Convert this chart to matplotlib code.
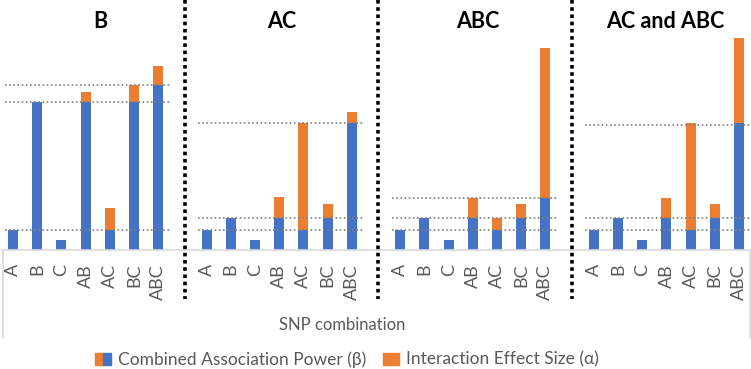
import matplotlib
matplotlib.use("Agg")
import numpy as np
import matplotlib.pyplot as plt
from matplotlib.patches import Patch
from matplotlib.legend_handler import HandlerTuple
from matplotlib.lines import Line2D

plt.rcParams['font.family'] = ['Lato', 'DejaVu Sans']

# data (arbitrary units)
combos = ['A', 'B', 'C', 'AB', 'AC', 'BC', 'ABC']
panels = ['B', 'AC', 'ABC', 'AC and ABC']

beta = [
    [2.0, 14.8, 1.0, 14.8, 2.0, 14.8, 16.5],
    [2.0, 3.2, 1.0, 3.2, 2.0, 3.2, 12.7],
    [2.0, 3.2, 1.0, 3.2, 2.0, 3.2, 5.2],
    [2.0, 3.2, 1.0, 3.2, 2.0, 3.2, 12.7],
]
alpha = [
    [0.0, 0.0, 0.0, 1.0, 2.2, 1.7, 1.9],
    [0.0, 0.0, 0.0, 2.1, 10.7, 1.4, 1.1],
    [0.0, 0.0, 0.0, 2.0, 1.2, 1.4, 15.0],
    [0.0, 0.0, 0.0, 2.0, 10.7, 1.4, 8.5],
]
ref_levels = [
    [2.0, 14.8, 16.5],
    [2.0, 3.2, 12.7],
    [2.0, 3.2, 5.2],
    [2.0, 3.2, 12.5],
]

BLUE = '#4472C4'
ORANGE = '#ED7D31'
GRAY_TXT = '#595959'
GRID = '#d9d9d9'

fig = plt.figure(figsize=(7.51, 3.69), dpi=100)
ax = fig.add_axes([2 / 751, 119 / 369, 746 / 751, 250 / 369])

step = 8
title_off = [3.6, 3.1, 3.2, 2.95]
xs, labels = [], []
for p in range(len(panels)):
    x = p * step + np.arange(len(combos))
    ax.bar(x, beta[p], width=0.41, color=BLUE, zorder=2)
    ax.bar(x, alpha[p], bottom=beta[p], width=0.41, color=ORANGE, zorder=2)
    for lev in ref_levels[p]:
        ax.plot([p * step - 0.35, p * step + 6.5], [lev, lev], ls=(0, (1, 1.5)),
                color='#808080', lw=1.2, zorder=3, clip_on=False)
    ax.text(p * step + title_off[p], 22.8, panels[p], ha='center', va='center',
            fontsize=15.5, fontweight='bold', color='black')
    xs.extend(x)
    labels.extend(combos)

# separators between panels
for p in range(1, len(panels)):
    ax.plot([p * step - 0.9] * 2, [1.0, -0.195], color='black', lw=2.6,
            ls=(0, (1, 1)), transform=ax.get_xaxis_transform(), clip_on=False,
            zorder=4)

ax.set_xlim(-0.455, 30.37)
ax.set_ylim(0, 25)
ax.set_xticks(xs)
ax.set_xticklabels(labels, rotation=90, color=GRAY_TXT, fontsize=13)
ax.tick_params(axis='x', length=0, pad=10)
ax.set_yticks([])
for s in ['top', 'left', 'right']:
    ax.spines[s].set_visible(False)
ax.spines['bottom'].set_color(GRID)
ax.spines['bottom'].set_linewidth(1.2)

# category box sides
for xf in [2.5 / 751, 749.5 / 751]:
    fig.add_artist(Line2D([xf, xf], [119 / 369, 31 / 369], color=GRID, lw=1.2))

fig.text(0.455, 0.118, 'SNP combination', ha='center', va='center',
         fontsize=12, color=GRAY_TXT)

h1 = (Patch(color=ORANGE), Patch(color=BLUE))
h2 = Patch(color=ORANGE)
fig.legend([h1, h2], ['Combined Association Power (\u03b2)', 'Interaction Effect Size (\u03b1)'],
           handler_map={tuple: HandlerTuple(ndivide=None, pad=0)},
           loc='center', bbox_to_anchor=(0.462, 0.026), ncol=2, frameon=False,
           fontsize=12.5, labelcolor=GRAY_TXT, handlelength=0.9, handleheight=0.7,
           handletextpad=0.4, columnspacing=1.0)

fig.savefig('out.png', dpi=100)
